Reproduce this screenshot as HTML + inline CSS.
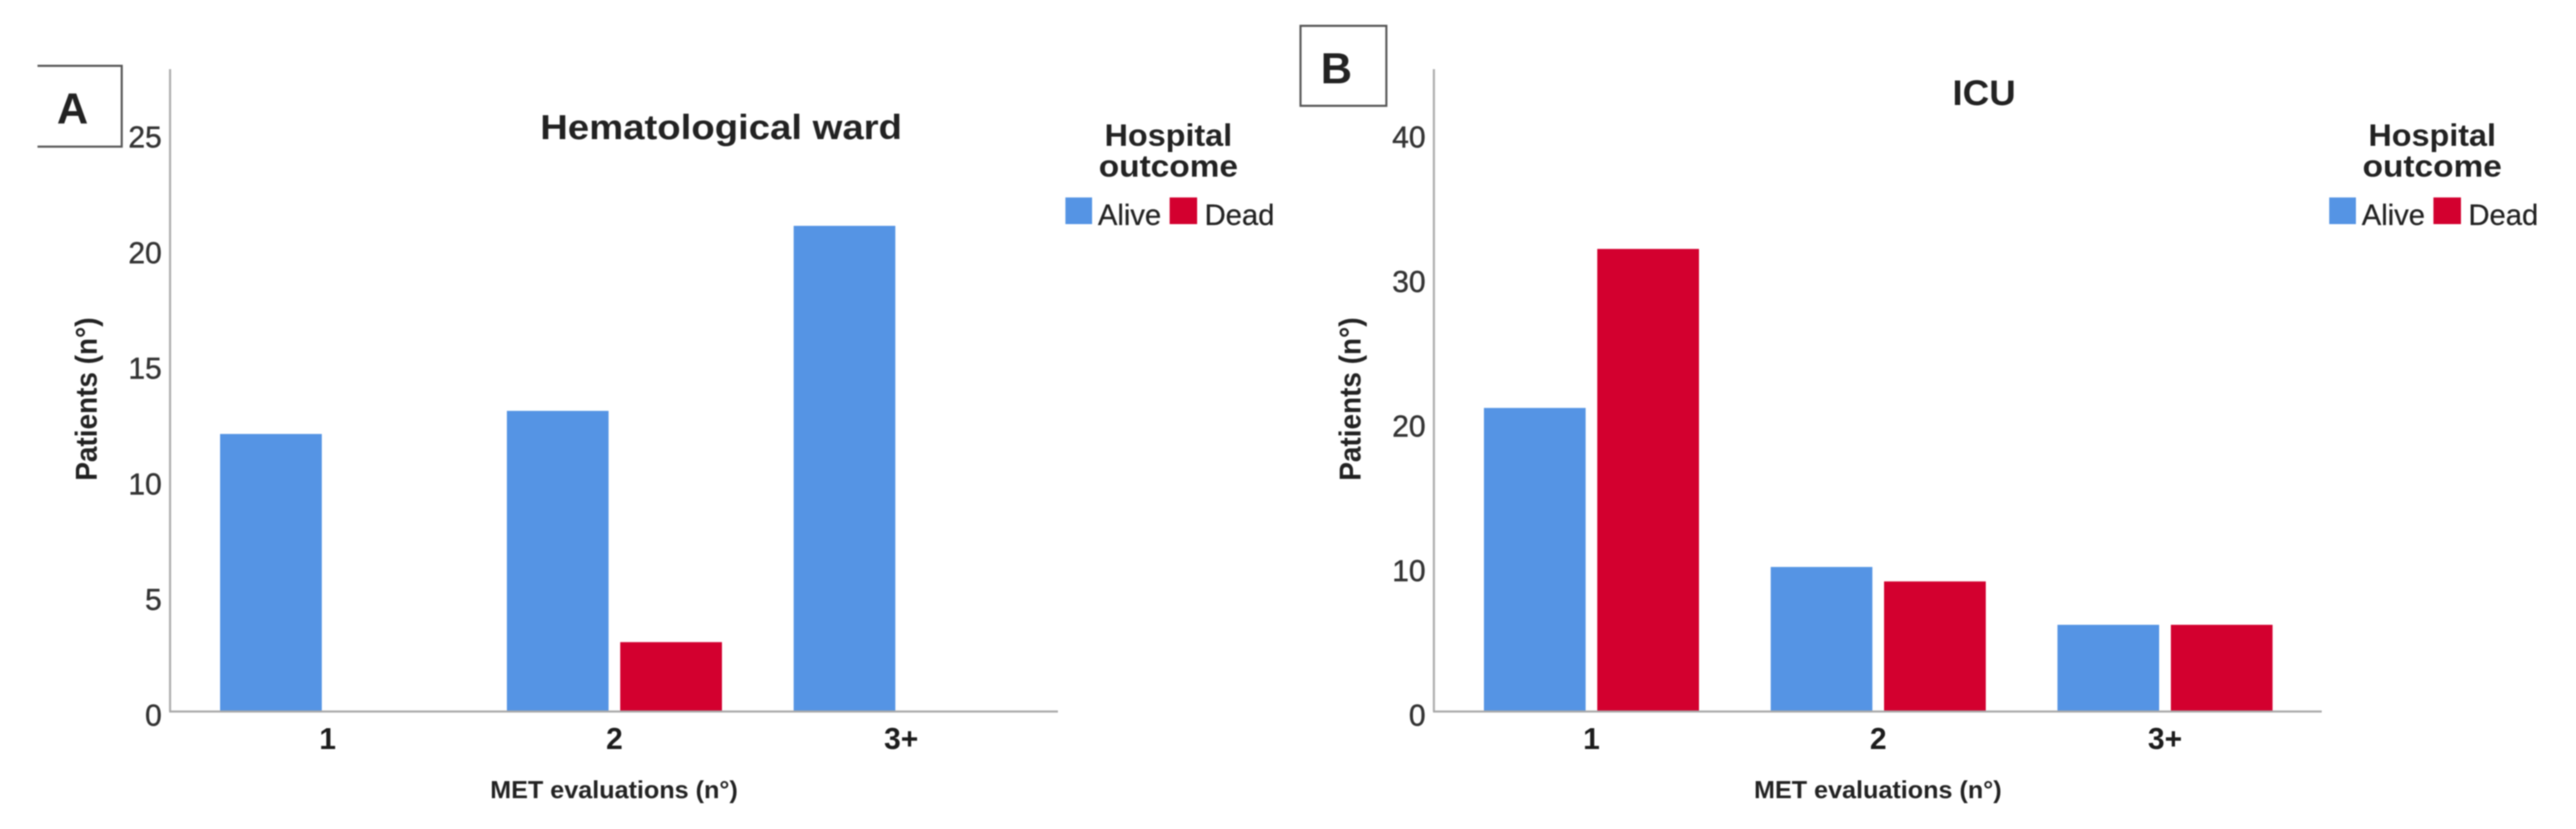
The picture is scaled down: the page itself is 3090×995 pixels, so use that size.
<!DOCTYPE html>
<html lang="en">
<head>
<meta charset="utf-8">
<title>MET evaluations by hospital outcome</title>
<style>
  html, body { margin: 0; padding: 0; background: #fff; width: 3090px; height: 995px; overflow: hidden; }
  svg { display: block; filter: blur(0.7px); }
  text { font-family: "Liberation Sans", Arial, sans-serif; fill: #222; }
  .b { font-weight: bold; }
  .tick { font-size: 36px; fill: #333; stroke: #333; stroke-width: 0.5px; text-anchor: end; }
  .cat { font-size: 36px; font-weight: bold; text-anchor: middle; fill: #1c1c1c; }
  .lg { font-size: 35px; fill: #222; stroke: #222; stroke-width: 0.3px; }
</style>
</head>
<body>
<svg id="chart" xmlns="http://www.w3.org/2000/svg" width="3090" height="995" viewBox="0 0 3090 995">
  <rect x="0" y="0" width="3090" height="995" fill="#fff"/>

  <g id="panel-a">
    <path d="M45 79H146V176H45" fill="none" stroke="#555" stroke-width="2.5"/>
    <text class="b" x="87" y="148" font-size="52" text-anchor="middle" fill="#111">A</text>
    <text class="b" x="648" y="167" font-size="42" textLength="434" lengthAdjust="spacingAndGlyphs">Hematological ward</text>
    <text class="b" transform="translate(116,577) rotate(-90)" font-size="36" textLength="196" lengthAdjust="spacingAndGlyphs">Patients (n°)</text>
    <text class="b" x="588" y="958" font-size="30" textLength="297" lengthAdjust="spacingAndGlyphs">MET evaluations (n°)</text>
    <g>
      <text class="b" x="1325" y="175" font-size="37" textLength="153" lengthAdjust="spacingAndGlyphs">Hospital</text>
      <text class="b" x="1318" y="212" font-size="37" textLength="167" lengthAdjust="spacingAndGlyphs">outcome</text>
      <rect x="1278" y="237" width="32" height="32" fill="#5594E4"/>
      <text class="lg" x="1317" y="270">Alive</text>
      <rect x="1403" y="237" width="33" height="32" fill="#D3002F"/>
      <text class="lg" x="1445" y="270">Dead</text>
    </g>
  </g>

  <g id="panel-b">
    <rect x="1560" y="31" width="103" height="96" fill="none" stroke="#555" stroke-width="2.5"/>
    <text class="b" x="1603" y="100" font-size="52" text-anchor="middle" fill="#111">B</text>
    <text class="b" x="2342" y="126" font-size="43" textLength="76" lengthAdjust="spacingAndGlyphs">ICU</text>
    <text class="b" transform="translate(1632,577) rotate(-90)" font-size="36" textLength="196" lengthAdjust="spacingAndGlyphs">Patients (n°)</text>
    <text class="b" x="2104" y="958" font-size="30" textLength="297" lengthAdjust="spacingAndGlyphs">MET evaluations (n°)</text>
    <g>
      <text class="b" x="2841" y="175" font-size="37" textLength="153" lengthAdjust="spacingAndGlyphs">Hospital</text>
      <text class="b" x="2834" y="212" font-size="37" textLength="167" lengthAdjust="spacingAndGlyphs">outcome</text>
      <rect x="2794" y="237" width="32" height="32" fill="#5594E4"/>
      <text class="lg" x="2833" y="270">Alive</text>
      <rect x="2919" y="237" width="33" height="32" fill="#D3002F"/>
      <text class="lg" x="2961" y="270">Dead</text>
    </g>
  </g>
</svg>

<script>
const categories = ["1", "2", "3+"];
const wardAlive = [12, 13, 21];
const wardDead = [0, 3, 0];
const wardTicks = [0, 5, 10, 15, 20, 25];
const icuAlive = [21, 10, 6];
const icuDead = [32, 9, 6];
const icuTicks = [0, 10, 20, 30, 40];

const SVG_NS = "http://www.w3.org/2000/svg";
const BASELINE = 854;
const AXIS_TOP = 83;
const TICK_TOP = 160;
const BAND = 344;
const BAR_W = 122;
const BAR_INSET = 7;

function make(tag, attrs, parent) {
  const el = document.createElementNS(SVG_NS, tag);
  for (const k in attrs) el.setAttribute(k, attrs[k]);
  parent.appendChild(el);
  return el;
}

function drawPanel(parent, prefix, offset, alive, dead, ticks) {
  const maxTick = ticks[ticks.length - 1];
  const yScale = function (v) { return BASELINE - v * (BASELINE - TICK_TOP) / maxTick; };
  const xCenter = function (i) { return offset + 393 + i * BAND; };

  const yAxis = make("line", { x1: offset + 204, x2: offset + 204, y1: AXIS_TOP, y2: BASELINE, stroke: "#aeaeae", "stroke-width": 2.5 }, parent);
  
  

  ticks.forEach(function (t) {
    const label = make("text", { class: "tick", x: offset + 194, y: yScale(t) + 17 }, parent);
    label.textContent = String(t);
    
    
  });

  categories.forEach(function (c, i) {
    const y0 = BASELINE;
    const a = make("rect", { x: xCenter(i) - BAR_INSET - BAR_W, y: yScale(alive[i]), width: BAR_W, height: y0 - yScale(alive[i]), fill: "#5594E4" }, parent);
    
    

    const d = make("rect", { x: xCenter(i) + BAR_INSET, y: yScale(dead[i]), width: BAR_W, height: y0 - yScale(dead[i]), fill: "#D3002F" }, parent);
    
    

    const label = make("text", { class: "cat", x: xCenter(i), y: 899 }, parent);
    label.textContent = c;
    
    
  });

  const xAxis = make("line", { x1: offset + 203, x2: offset + 1269, y1: BASELINE, y2: BASELINE, stroke: "#a8a8a8", "stroke-width": 2.5 }, parent);
  
  
}

drawPanel(document.getElementById("panel-a"), "panel-a", 0, wardAlive, wardDead, wardTicks);
drawPanel(document.getElementById("panel-b"), "panel-b", 1516, icuAlive, icuDead, icuTicks);
</script>
</body>
</html>
